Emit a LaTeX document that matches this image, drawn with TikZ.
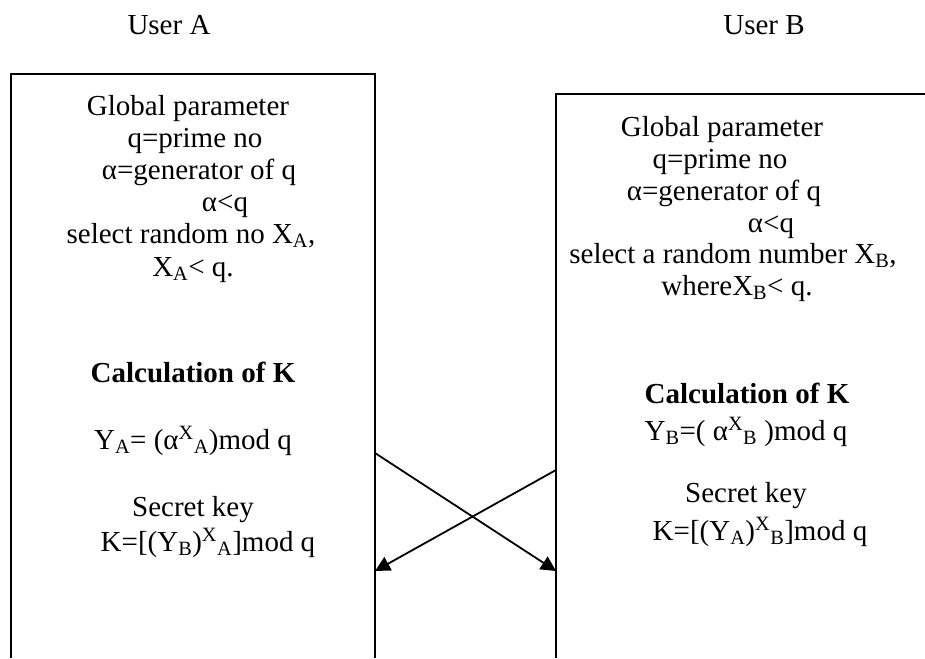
\documentclass[tikz,border=0pt]{standalone}
\usepackage{fontspec}
\setmainfont{Liberation Serif}
\usepackage{tikz}
\usetikzlibrary{arrows.meta}

\tikzset{
  txt/.style={font=\fontsize{29}{32}\selectfont,inner sep=0pt,anchor=base},
  boxline/.style={line width=1.6pt},
  xarrow/.style={line width=1.8pt,-{Triangle[length=15pt,width=15pt]}}
}

\begin{document}
\begin{tikzpicture}[x=1pt,y=-1pt]
\useasboundingbox (0,0) rectangle (925,658);
% titles
\node[txt] (ua) at (169,35) {User A};
\node[txt] (ub) at (764,35) {User B};
% boxes, open at the bottom
\draw[boxline] (11,658) -- (11,74) -- (375,74) -- (375,658);
\draw[boxline,line width=1.4pt] (556,658) -- (556,94) -- (925,94);
% user A
\node[txt] (ga) at (188,115) {Global parameter};
\node[txt] (qa) at (195,147) {q=prime no};
\node[txt] (gena) at (199,179) {α=generator of q};
\node[txt] (lta) at (225,211) {α<q};
\node[txt] (sela) at (191,243) {select random no X\textsubscript{A},};
\node[txt] (xa) at (193,276) {X\textsubscript{A}< q.};
\node[txt] (calca) at (193,382) {\textbf{Calculation of K}};
\node[txt] (ya) at (193,449) {Y\textsubscript{A}= (α\textsuperscript{X}\textsubscript{A})mod q};
\node[txt] (ska) at (193,516) {Secret key};
\node[txt] (ka) at (208,551) {K=[(Y\textsubscript{B})\textsuperscript{X}\textsubscript{A}]mod q};
% user B
\node[txt] (gb) at (722,136) {Global parameter};
\node[txt] (qb) at (720,168) {q=prime no};
\node[txt] (genb) at (724,200) {α=generator of q};
\node[txt] (ltb) at (771,232) {α<q};
\node[txt] (selb) at (733,263) {select a random number X\textsubscript{B},};
\node[txt] (xb) at (737,295) {whereX\textsubscript{B}< q.};
\node[txt] (calcb) at (747,403) {\textbf{Calculation of K}};
\node[txt] (yb) at (746,440) {Y\textsubscript{B}=( α\textsuperscript{X}\textsubscript{B} )mod q};
\node[txt] (skb) at (746,502) {Secret key};
\node[txt] (kb) at (760,540) {K=[(Y\textsubscript{A})\textsuperscript{X}\textsubscript{B}]mod q};
% exchange of public values
\coordinate (aout) at (375,453);
\coordinate (ain) at (375,571);
\coordinate (bout) at (556,470);
\coordinate (bin) at (556,571);
\draw[xarrow] (aout) -- (bin);
\draw[xarrow] (bout) -- (ain);
\end{tikzpicture}
\end{document}
